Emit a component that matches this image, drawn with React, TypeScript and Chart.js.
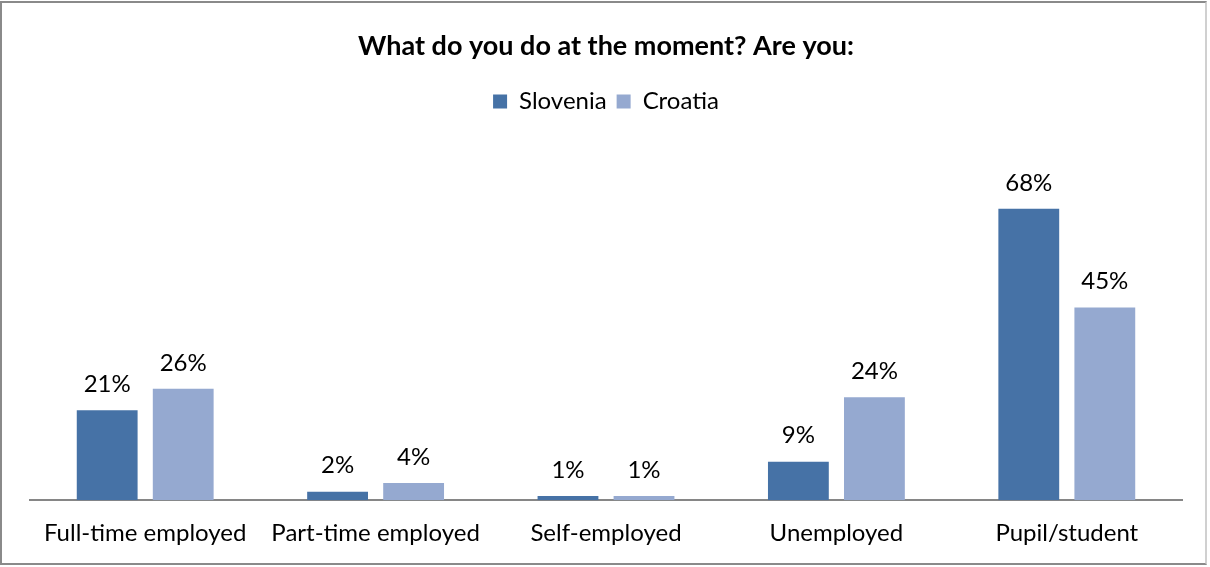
import React, { useEffect, useRef } from "react";
import { Chart, registerables } from "chart.js";

Chart.register(...registerables);

const categories = ["Full-time employed", "Part-time employed", "Self-employed", "Unemployed", "Pupil/student"];
const slovenia = [21, 2, 1, 9, 68];
const croatia = [26, 4, 1, 24, 45];
const seriesNames = ["Slovenia", "Croatia"];
const chartTitle = "What do you do at the moment? Are you:";

const FONT = "Lato, 'Open Sans', sans-serif";

const dataLabels = {
  id: "dataLabels",
  afterDatasetsDraw(chart: any) {
    const ctx = chart.ctx;
    ctx.save();
    ctx.font = `24px ${FONT}`;
    ctx.fillStyle = "#000";
    ctx.textAlign = "center";
    ctx.textBaseline = "middle";
    chart.data.datasets.forEach((ds: any, i: number) => {
      const meta = chart.getDatasetMeta(i);
      meta.data.forEach((bar: any, j: number) => {
        ctx.fillText(`${ds.data[j]}%`, bar.x, bar.y - 26);
      });
    });
    ctx.restore();
  },
};

const legendGap = {
  id: "legendGap",
  beforeInit(chart: any) {
    const legend = chart.legend;
    if (!legend) return;
    const origFit = legend.fit;
    legend.fit = function () {
      origFit.bind(legend)();
      this.height += 34;
    };
  },
};

export default function App() {
  const ref = useRef<HTMLCanvasElement>(null);
  useEffect(() => {
    if (!ref.current) return;
    const chart = new Chart(ref.current, {
      type: "bar",
      data: {
        labels: categories,
        datasets: [
          { label: seriesNames[0], data: slovenia, backgroundColor: "#4672A6" },
          { label: seriesNames[1], data: croatia, backgroundColor: "#95A9D0" },
        ],
      },
      options: {
        responsive: false,
        animation: false,
        devicePixelRatio: 1,
        layout: { padding: { left: 30, right: 28, top: 0, bottom: 0 } },
        datasets: { bar: { categoryPercentage: 0.66, barPercentage: 0.8 } },
        plugins: {
          title: {
            display: true,
            text: chartTitle,
            color: "#000",
            font: { family: FONT, size: 27, weight: "bold" },
            padding: { top: 30, bottom: 17 },
          },
          legend: {
            display: true,
            labels: {
              color: "#000",
              font: { family: FONT, size: 24 },
              boxWidth: 14,
              boxHeight: 14,
              padding: 10,
            },
          },
          tooltip: { enabled: false },
        },
        scales: {
          x: {
            grid: { display: false, drawTicks: false },
            border: { display: true, color: "#868686", width: 2 },
            ticks: { color: "#000", font: { family: FONT, size: 24 }, padding: 19, maxRotation: 0, autoSkip: false },
          },
          y: {
            display: false,
            min: 0,
            max: 80,
          },
        },
      },
      plugins: [dataLabels, legendGap],
    });
    return () => chart.destroy();
  }, []);
  return (
    <div style={{ position: "absolute", left: 0, top: 0, width: 1210, height: 567, background: "#fff" }}>
      <canvas ref={ref} width={1210} height={567} style={{ display: "block" }} />
      <div
        style={{
          position: "absolute",
          left: 0,
          top: 1,
          width: 1207,
          height: 564,
          borderTop: "2px solid #8a8a8a",
          borderLeft: "2px solid #8a8a8a",
          borderBottom: "2px solid #8a8a8a",
          borderRight: "2px solid #d0d0d0",
          boxSizing: "border-box",
          pointerEvents: "none",
        }}
      />
    </div>
  );
}
